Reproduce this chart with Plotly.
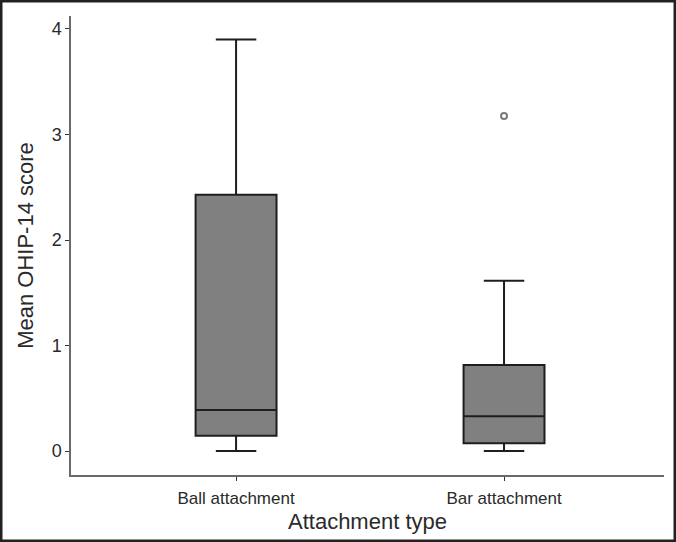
import plotly.graph_objects as go

# group labels
groups = ["Ball attachment", "Bar attachment"]

# box statistics
lower = [0.0, 0.0]
q1 = [0.145, 0.073]
median = [0.39, 0.33]
q3 = [2.43, 0.815]
upper = [3.90, 1.614]

# outlier points
outlier_x = ["Bar attachment"]
outlier_y = [3.175]

font = "Liberation Sans, Arial, sans-serif"

fig = go.Figure()
fig.add_trace(go.Box(
    x=groups,
    q1=q1, median=median, q3=q3,
    lowerfence=lower, upperfence=upper,
    width=0.302,
    whiskerwidth=0.5,
    fillcolor="#808080",
    line=dict(color="#1e1e1e", width=2),
    boxpoints=False,
    hoverinfo="skip",
    showlegend=False,
))
fig.add_trace(go.Scatter(
    x=outlier_x, y=outlier_y,
    mode="markers",
    marker=dict(symbol="circle-open", size=6, color="#7a7a7a", line=dict(width=2, color="#7a7a7a")),
    showlegend=False,
))

# outer frame round the whole picture
pw, ph = 676 - 71 - 12, 542 - 16 - 67
fig.add_shape(
    type="rect", xref="paper", yref="paper",
    x0=-70 / pw, x1=1 + 11 / pw, y0=-66 / ph, y1=1 + 15 / ph,
    line=dict(color="#222222", width=3), fillcolor="rgba(0,0,0,0)",
)

fig.update_layout(
    width=676, height=542,
    margin=dict(l=71, r=12, t=16, b=67),
    plot_bgcolor="white", paper_bgcolor="white",
    font=dict(family=font, color="#2a2a2a"),
)
fig.update_xaxes(
    type="category",
    range=[-0.616, 1.597],
    showline=True, linecolor="#6a6a6a", linewidth=1.5,
    ticks="outside", ticklen=4, tickcolor="#333333",
    tickfont=dict(size=17), ticklabelstandoff=3,
    showgrid=False, zeroline=False,
    title=dict(text="Attachment type", font=dict(size=22), standoff=6),
)
fig.update_yaxes(
    range=[-0.227, 4.123],
    tickvals=[0, 1, 2, 3, 4],
    showline=True, linecolor="#6a6a6a", linewidth=1.5,
    ticks="outside", ticklen=4, tickcolor="#333333",
    tickfont=dict(size=18),
    showgrid=False, zeroline=False,
    title=dict(text="Mean OHIP-14 score", font=dict(size=22), standoff=12),
)

fig.write_html("out.html", config={"displayModeBar": False},
               post_script="document.body.style.margin='0';")
